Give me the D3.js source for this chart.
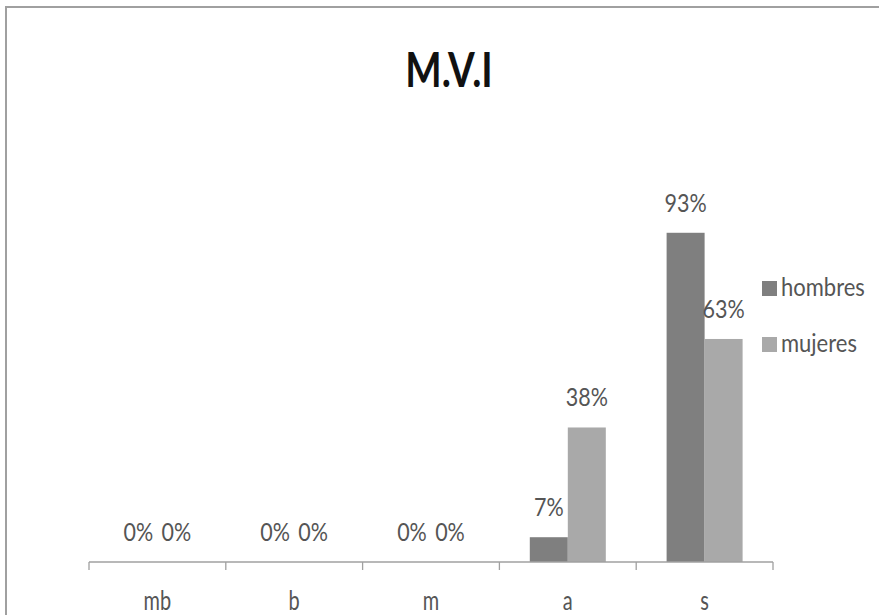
<!DOCTYPE html>
<html><head><meta charset="utf-8">
<script src="https://cdn.jsdelivr.net/npm/d3@7"></script>
<style>
body{margin:0;background:#fff;}
text{font-family:Lato,"Open Sans",sans-serif;}
</style></head>
<body><svg id="c" width="879" height="615"></svg>
<script>
const title = "M.V.I";
const categories = ["mb","b","m","a","s"];
const seriesNames = ["hombres","mujeres"];
const hombres = [0,0,0,7,93];
const mujeres = [0,0,0,38,63];
const seriesColors = ["#7f7f7f","#a9a9a9"];

const svg = d3.select("#c");
svg.append("rect").attr("width",879).attr("height",615).attr("fill","#fff");
// frame
svg.append("path").attr("d","M6,615 V7 H879").attr("fill","none").attr("stroke","#a0a0a0").attr("stroke-width",2);

const x = d3.scaleBand().domain(categories).range([89,773]).padding(0);
const xs = d3.scaleBand().domain(seriesNames).range([0,x.bandwidth()]).paddingInner(0).paddingOuter(0.8);
const y = d3.scaleLinear().domain([0,100]).range([562,208]);

const data = seriesNames.map((s,i)=>({name:s,color:seriesColors[i],values:(i===0?hombres:mujeres)}));

function txt(g, s, px, py, size, weight, fill, anchor, sx){
  g.append("text").attr("transform",`translate(${px},${py}) scale(${sx||0.86},1)`)
   .attr("text-anchor",anchor||"middle").attr("font-size",size).attr("font-weight",weight||"normal")
   .attr("fill",fill).text(s);
}

// bars
data.forEach(d=>{
  const g = svg.append("g");
  g.selectAll("rect").data(categories.map((c,i)=>({c,v:d.values[i]}))).join("rect")
   .attr("x",e=>x(e.c)+xs(d.name)).attr("width",xs.bandwidth())
   .attr("y",e=>y(e.v)).attr("height",e=>y(0)-y(e.v)).attr("fill",d.color);
});
// labels
const lg = svg.append("g");
data.forEach(d=>{
  categories.forEach((c,i)=>{
    const v = d.values[i];
    txt(lg, v+"%", x(c)+xs(d.name)+xs.bandwidth()/2, y(v)-21, 25, "normal", "#555555", "middle", 0.86);
  });
});

// axis
const ax = svg.append("g").attr("transform","translate(0,562)");
ax.append("line").attr("x1",x.range()[0]).attr("x2",x.range()[1]).attr("stroke","#a0a0a0").attr("stroke-width",1.3);
const bounds = categories.map(c=>x(c)).concat([x.range()[1]]);
ax.selectAll(".tk").data(bounds).join("line").attr("class","tk")
  .attr("x1",d=>d).attr("x2",d=>d).attr("y1",0).attr("y2",8).attr("stroke","#a0a0a0").attr("stroke-width",1.3);
categories.forEach(c=>txt(ax, c, x(c)+x.bandwidth()/2, 48, 27, "normal", "#555555", "middle", 0.74));

// title
txt(svg, title, 449, 87, 47, "bold", "#111", "middle", 0.82);

// legend
data.forEach((d,i)=>{
  const ly = 288 + i*56;
  svg.append("rect").attr("x",762).attr("y",ly-7).attr("width",15).attr("height",15).attr("fill",d.color);
  txt(svg, d.name, 781, ly+8, 25, "normal", "#555555", "start", 0.88);
});
</script></body></html>
